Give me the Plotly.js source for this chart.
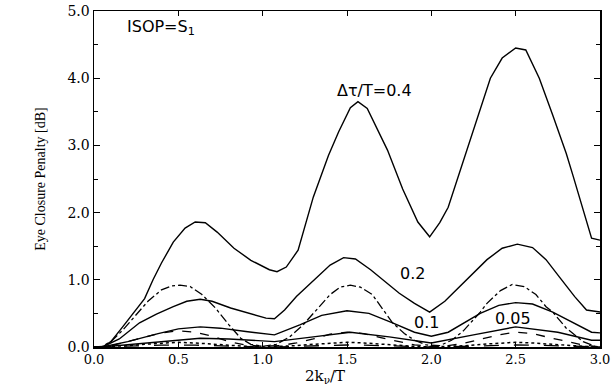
<!DOCTYPE html>
<html>
<head>
<meta charset="utf-8">
<script src="https://cdn.plot.ly/plotly-3.0.1.min.js"></script>
<style>html,body{margin:0;padding:0;background:#fff}#chart{width:613px;height:386px}</style>
</head>
<body>
<div id="chart"></div>
<script>
// Solid curves (exact result), labelled by delta tau / T
const x04 = [0.05,0.1,0.17,0.25,0.3,0.35,0.4,0.47,0.54,0.6,0.66,0.73,0.83,0.93,1.04,1.085,1.14,1.21,1.3,1.39,1.45,1.52,1.565,1.62,1.71,1.74,1.83,1.92,1.99,2.05,2.1,2.22,2.35,2.42,2.5,2.56,2.64,2.72,2.8,2.84,2.9,2.95,3.0];
const y04 = [0,0.08,0.3,0.55,0.72,1.0,1.25,1.56,1.77,1.86,1.85,1.71,1.47,1.29,1.15,1.12,1.19,1.44,2.23,2.85,3.2,3.56,3.65,3.55,3.08,2.93,2.35,1.86,1.64,1.85,2.08,3.0,4.0,4.3,4.45,4.42,4.0,3.45,2.88,2.55,2.05,1.62,1.59];

const x02 = [0.05,0.15,0.27,0.37,0.47,0.55,0.63,0.7,0.81,0.92,1.02,1.07,1.13,1.2,1.32,1.4,1.48,1.55,1.64,1.72,1.81,1.9,1.99,2.08,2.17,2.25,2.33,2.42,2.51,2.6,2.68,2.76,2.85,2.92,2.96,3.0];
const y02 = [0,0.12,0.36,0.49,0.6,0.68,0.71,0.68,0.58,0.5,0.43,0.42,0.55,0.75,1.04,1.22,1.33,1.31,1.15,0.98,0.8,0.65,0.52,0.68,0.9,1.1,1.3,1.47,1.53,1.48,1.3,1.04,0.75,0.55,0.53,0.52];

const x01 = [0.05,0.2,0.38,0.5,0.63,0.75,0.9,1.07,1.22,1.35,1.5,1.63,1.77,1.9,2.0,2.1,2.29,2.4,2.5,2.6,2.72,2.85,2.95,3.0];
const y01 = [0,0.08,0.2,0.27,0.3,0.28,0.23,0.18,0.33,0.47,0.54,0.5,0.36,0.22,0.16,0.22,0.5,0.62,0.66,0.64,0.52,0.35,0.22,0.21];

const x005 = [0.05,0.3,0.5,0.63,0.8,1.07,1.3,1.52,1.75,2.0,2.25,2.5,2.75,2.95,3.0];
const y005 = [0,0.06,0.11,0.13,0.12,0.08,0.15,0.22,0.15,0.06,0.18,0.3,0.22,0.1,0.1];

// Broken curves (approximation)
const xa04 = [0,0.05,0.1,0.17,0.25,0.32,0.4,0.46,0.51,0.57,0.64,0.72,0.8,0.87,0.93,1.0,1.08,1.16,1.24,1.32,1.4,1.46,1.52,1.58,1.65,1.77,1.84,1.9,1.97,2.05,2.12,2.19,2.25,2.29,2.33,2.41,2.48,2.55,2.62,2.68,2.72,2.8,2.84,2.9,2.97,3.0];
const ya04 = [0,0.01,0.08,0.25,0.48,0.68,0.85,0.91,0.92,0.9,0.78,0.58,0.33,0.13,0.04,0.01,0.04,0.15,0.33,0.55,0.78,0.89,0.92,0.89,0.78,0.36,0.2,0.1,0.03,0.02,0.1,0.24,0.4,0.52,0.65,0.84,0.93,0.9,0.78,0.6,0.52,0.28,0.2,0.08,0.01,0];

const xa = [0,0.1,0.2,0.3,0.4,0.5,0.6,0.7,0.8,0.9,1.0,1.1,1.2,1.3,1.4,1.5,1.6,1.7,1.8,1.9,2.0,2.1,2.2,2.3,2.4,2.5,2.6,2.7,2.8,2.9,3.0];
const ya02 = [0,0.02,0.08,0.15,0.21,0.24,0.22,0.16,0.08,0.03,0.01,0.02,0.06,0.12,0.19,0.22,0.2,0.14,0.08,0.03,0.01,0.02,0.06,0.12,0.18,0.22,0.2,0.14,0.08,0.03,0];
const ya01 = [0,0.005,0.02,0.04,0.06,0.07,0.06,0.04,0.02,0.01,0,0.005,0.02,0.04,0.06,0.07,0.06,0.04,0.02,0.01,0,0.005,0.02,0.04,0.06,0.07,0.06,0.04,0.02,0.01,0];
const ya005 = [0,0.003,0.01,0.02,0.028,0.03,0.028,0.02,0.01,0.004,0,0.003,0.01,0.02,0.028,0.03,0.028,0.02,0.01,0.004,0,0.003,0.01,0.02,0.028,0.03,0.028,0.02,0.01,0.004,0];

const xTicks = [0,0.5,1,1.5,2,2.5,3];
const xTickText = ['0.0','0.5','1.0','1.5','2.0','2.5','3.0'];
const yTicks = [0,1,2,3,4,5];
const yTickText = ['0.0','1.0','2.0','3.0','4.0','5.0'];

const lw = 1.4;
function tr(x, y, dash, w) {
  return {x: x, y: y, mode: 'lines', type: 'scatter', hoverinfo: 'skip',
    line: {color: '#000', width: w || lw, dash: dash}, showlegend: false};
}
const data = [
  tr(xa, ya005, 'longdash', 1.3),
  tr(xa, ya01, 'dot', 1.5),
  tr(xa, ya02, 'dash', 1.3),
  tr(xa04, ya04, 'dashdot', 1.3),
  tr(x005, y005, 'solid'),
  tr(x01, y01, 'solid'),
  tr(x02, y02, 'solid'),
  tr(x04, y04, 'solid')
];

const sans = 'DejaVu Sans, sans-serif';
const serif = 'DejaVu Serif, serif';
const layout = {
  width: 613, height: 386,
  margin: {l: 94, r: 13, t: 11, b: 39},
  paper_bgcolor: '#fff', plot_bgcolor: '#fff',
  xaxis: {
    range: [0, 3], tickvals: xTicks, ticktext: xTickText,
    ticks: 'inside', ticklen: 5, tickwidth: 1, tickcolor: '#000',
    showline: true, linecolor: '#000', linewidth: 1.5, mirror: 'ticks',
    showgrid: false, zeroline: false,
    tickfont: {family: serif, size: 13, color: '#000'}
  },
  yaxis: {
    range: [0, 5], tickvals: yTicks, ticktext: yTickText,
    ticks: 'inside', ticklen: 6, tickwidth: 1, tickcolor: '#000',
    minor: {tickvals: [0.5,1.5,2.5,3.5,4.5], ticks: 'inside', ticklen: 4, tickcolor: '#000'},
    showline: true, linecolor: '#000', linewidth: 1.5, mirror: 'ticks',
    showgrid: false, zeroline: false,
    tickfont: {family: serif, size: 14, color: '#000'},
    title: {text: 'Eye Closure Penalty [dB]', font: {family: 'Liberation Serif, serif', size: 14, color: '#000'}, standoff: 18}
  },
  annotations: [
    {text: 'ISOP=S<sub>1</sub>', x: 0.184, y: 4.76, xref: 'x', yref: 'y', xanchor: 'left', yanchor: 'middle', showarrow: false, font: {family: sans, size: 16, color: '#000'}},
    {text: 'Δτ/T=0.4', x: 1.43, y: 3.81, xref: 'x', yref: 'y', xanchor: 'left', yanchor: 'middle', showarrow: false, font: {family: sans, size: 16, color: '#000'}},
    {text: '0.2', x: 1.80, y: 1.10, xref: 'x', yref: 'y', xanchor: 'left', yanchor: 'middle', showarrow: false, font: {family: sans, size: 16, color: '#000'}},
    {text: '0.1', x: 1.885, y: 0.36, xref: 'x', yref: 'y', xanchor: 'left', yanchor: 'middle', showarrow: false, font: {family: sans, size: 16, color: '#000'}},
    {text: '0.05', x: 2.365, y: 0.42, xref: 'x', yref: 'y', xanchor: 'left', yanchor: 'middle', showarrow: false, font: {family: sans, size: 16, color: '#000'}},
    {text: '2k<sub>ν</sub>/T', x: 1.37, y: -0.088, xref: 'x', yref: 'paper', xanchor: 'center', yanchor: 'middle', showarrow: false, font: {family: serif, size: 15, color: '#000'}}
  ]
};
Plotly.newPlot('chart', data, layout, {staticPlot: true, displayModeBar: false});
</script>
</body>
</html>
